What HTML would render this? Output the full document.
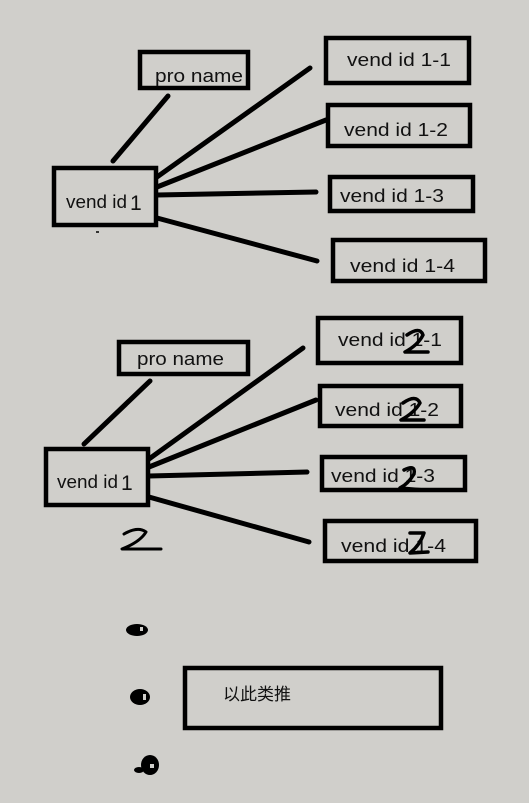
<!DOCTYPE html>
<html><head><meta charset="utf-8"><style>
html,body{margin:0;padding:0;background:#d0cfcb;}
svg{display:block}
text{font-family:"Liberation Sans","Noto Sans CJK SC",sans-serif;fill:#111;}
</style></head><body>
<svg width="529" height="803" viewBox="0 0 529 803" xmlns="http://www.w3.org/2000/svg">
<rect width="529" height="803" fill="#d0cfcb"/>
<g fill="none" stroke="#000" stroke-width="4.5">
<rect x="140" y="52" width="108" height="36"/>
<rect x="54" y="168" width="102" height="57"/>
<rect x="326" y="38" width="143" height="45"/>
<rect x="328" y="105" width="142" height="41"/>
<rect x="330" y="177" width="143" height="34"/>
<rect x="333" y="240" width="152" height="41"/>
</g>
<g stroke="#000" stroke-width="5" stroke-linecap="round">
<line x1="168" y1="96" x2="113" y2="161"/>
<line x1="157" y1="177" x2="310" y2="68"/>
<line x1="157" y1="187" x2="326" y2="120"/>
<line x1="157" y1="195" x2="316" y2="192"/>
<line x1="157" y1="218" x2="317" y2="261"/>
</g>
<g font-size="18">
<text x="155" y="82" textLength="88" lengthAdjust="spacingAndGlyphs">pro name</text>
<text x="66" y="208" textLength="61" lengthAdjust="spacingAndGlyphs">vend id</text>
<text x="130" y="210" font-size="21">1</text>
<text x="347" y="66" textLength="104" lengthAdjust="spacingAndGlyphs">vend id 1-1</text>
<text x="344" y="136" textLength="104" lengthAdjust="spacingAndGlyphs">vend id 1-2</text>
<text x="340" y="202" textLength="104" lengthAdjust="spacingAndGlyphs">vend id 1-3</text>
<text x="350" y="272" textLength="105" lengthAdjust="spacingAndGlyphs">vend id 1-4</text>
</g>
<line x1="96" y1="232" x2="99" y2="232" stroke="#000" stroke-width="1.5"/>

<g fill="none" stroke="#000" stroke-width="4.5">
<rect x="119" y="342" width="129" height="32"/>
<rect x="46" y="449" width="102" height="56"/>
<rect x="318" y="318" width="143" height="45"/>
<rect x="320" y="386" width="141" height="40"/>
<rect x="322" y="457" width="143" height="33"/>
<rect x="325" y="521" width="151" height="40"/>
</g>
<g stroke="#000" stroke-width="5" stroke-linecap="round">
<line x1="150" y1="381" x2="84" y2="444"/>
<line x1="149" y1="459" x2="303" y2="348"/>
<line x1="149" y1="467" x2="316" y2="400"/>
<line x1="149" y1="476" x2="307" y2="472"/>
<line x1="149" y1="497" x2="309" y2="542"/>
</g>
<g font-size="18">
<text x="137" y="365" textLength="87" lengthAdjust="spacingAndGlyphs">pro name</text>
<text x="57" y="488" textLength="61" lengthAdjust="spacingAndGlyphs">vend id</text>
<text x="121" y="490" font-size="21">1</text>
<text x="338" y="346" textLength="104" lengthAdjust="spacingAndGlyphs">vend id 1-1</text>
<text x="335" y="416" textLength="104" lengthAdjust="spacingAndGlyphs">vend id 1-2</text>
<text x="331" y="482" textLength="104" lengthAdjust="spacingAndGlyphs">vend id 1-3</text>
<text x="341" y="552" textLength="105" lengthAdjust="spacingAndGlyphs">vend id 1-4</text>
</g>
<g fill="none" stroke="#000" stroke-width="3.5" stroke-linecap="round" stroke-linejoin="round">
<path d="M407 335 Q420 326 423 335 Q418 345 405 352 L428 352"/>
<path d="M403 403 Q416 394 420 403 Q414 413 401 420 L424 420"/>
<path d="M404 470 Q416 464 414 474 Q408 484 400 488 L424 490"/>
<path d="M410 533 L424 533 Q420 545 410 553 L428 552"/>
<path d="M124 534 Q138 526 146 532 Q140 542 122 549 L161 549" stroke-width="3"/>
</g>

<rect x="185" y="668" width="256" height="60" fill="none" stroke="#000" stroke-width="4.5"/>
<text x="223" y="700" font-size="17">以此类推</text>
<g fill="#000">
<ellipse cx="137" cy="630" rx="11" ry="6"/>
<ellipse cx="140" cy="697" rx="10" ry="8"/>
<ellipse cx="150" cy="765" rx="9" ry="10"/>
<ellipse cx="139" cy="770" rx="5" ry="3"/>
</g>
<g fill="#d0cfcb">
<rect x="140" y="627" width="3" height="4"/>
<rect x="143" y="694" width="3" height="6"/>
<rect x="150" y="764" width="4" height="4"/>
</g>
</svg>
</body></html>
